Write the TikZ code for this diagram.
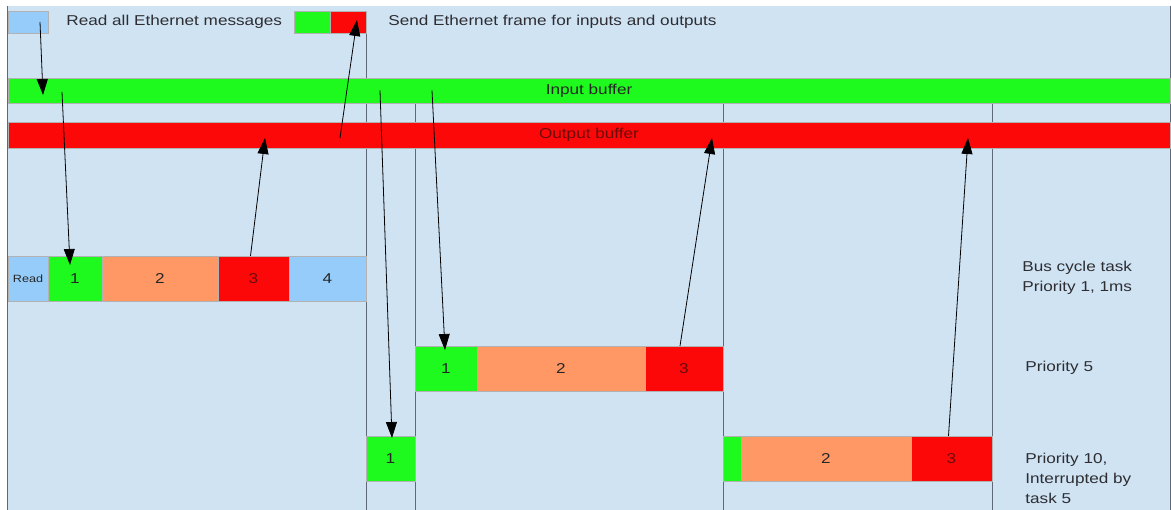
\documentclass[tikz,border=0pt]{standalone}
\usepackage{fontspec}
\setmainfont[FakeStretch=1.2]{Liberation Sans}
\usetikzlibrary{positioning,arrows.meta,backgrounds}

\definecolor{bgblue}{RGB}{207,227,243}
\definecolor{ingreen}{RGB}{30,250,30}
\definecolor{outred}{RGB}{252,8,8}
\definecolor{taskorange}{RGB}{255,152,100}
\definecolor{readblue}{RGB}{150,204,250}
\definecolor{sepgray}{RGB}{95,105,120}
\definecolor{labelgray}{RGB}{45,45,50}
\definecolor{redtext}{RGB}{110,10,10}

\tikzset{
  seg/.style={draw=gray!60, line width=0.6pt, inner sep=0pt, outer sep=0pt, minimum height=45pt, text=black!85, font=\fontsize{14.3}{20}\selectfont},
  outseg/.style={seg, fill=outred, text=redtext},
  buffer/.style={seg, minimum width=1162pt, minimum height=25pt},
  sep/.style={draw=sepgray, line width=1pt},
  note/.style={align=left, inner sep=0pt, anchor=north west, text=labelgray, font=\fontsize{14.3}{20}\selectfont},
}

\begin{document}
\begin{tikzpicture}[x=1pt, y=-1pt, line width=0.8pt, >={Triangle[length=16pt,width=11pt]}]
\useasboundingbox (0,0) rectangle (1171,510);
\coordinate (bot) at (0,510);

% legend
\node[seg, fill=readblue, minimum width=40pt, minimum height=22pt, anchor=north west] (lgread) at (8,11) {};
\node[note, right=18pt of lgread] (lgreadtxt) {Read all Ethernet messages};
\node[seg, fill=ingreen, minimum width=36pt, minimum height=22pt, anchor=north west] (lgin) at (294,11) {};
\node[outseg, minimum width=36pt, minimum height=22pt, right=0pt of lgin] (lgout) {};
\node[note, right=22pt of lgout] (lgouttxt) {Send Ethernet frame for inputs and outputs};

% buffers
\node[buffer, fill=ingreen, anchor=north west] (inbuf) at (8,78) {Input buffer};
\node[buffer, outseg, minimum height=26pt, anchor=north west] (outbuf) at (8,122) {Output buffer};

% bus cycle task
\node[seg, fill=readblue, minimum width=40pt, anchor=north west, font=\fontsize{10.5}{12}\selectfont] (bread) at (8,256) {Read};
\node[seg, fill=ingreen, minimum width=54pt, right=0pt of bread] (b1) {1};
\node[seg, fill=taskorange, minimum width=116pt, right=0pt of b1] (b2) {2};
\node[outseg, minimum width=71pt, right=0pt of b2] (b3) {3};
\node[seg, fill=readblue, minimum width=77pt, right=0pt of b3] (b4) {4};

% priority 5
\node[seg, fill=ingreen, minimum width=62pt, anchor=north west] (p5a) at (415,346) {1};
\node[seg, fill=taskorange, minimum width=168pt, right=0pt of p5a] (p5b) {2};
\node[outseg, minimum width=78pt, right=0pt of p5b] (p5c) {3};

% priority 10
\node[seg, fill=ingreen, minimum width=49pt, anchor=north west] (p10a) at (366,436) {1};
\node[seg, fill=ingreen, minimum width=18pt, anchor=north west] (p10b) at (723,436) {};
\node[seg, fill=taskorange, minimum width=170pt, right=0pt of p10b] (p10c) {2};
\node[outseg, minimum width=81pt, right=0pt of p10c] (p10d) {3};

% task labels
\node[note] (buslbl) at (1022,261) {Bus cycle task\\Priority 1, 1ms};
\node[note] (p5lbl) at (1025,361) {Priority 5};
\node[note] (p10lbl) at (1025,453) {Priority 10,\\Interrupted by\\task 5};

% background and time marks
\begin{scope}[on background layer]
  \fill[bgblue] (7,6) rectangle (1170,510);
  \draw[sep] (7,6) -- (7,510);
  \draw[sep] (1170,6) -- (1170,510);
  \draw[sep] (lgout.south east) -- (lgout.south east |- bot);
  \draw[sep] (inbuf.south -| p5a.west) -- (p5a.west |- bot);
  \draw[sep] (inbuf.south -| p5c.east) -- (p5c.east |- bot);
  \draw[sep] (inbuf.south -| p10d.east) -- (p10d.east |- bot);
\end{scope}

% data flow
\draw[->] ([xshift=12pt]lgread.center) -- ([xshift=35pt,yshift=-4.5pt]inbuf.west);
\draw[->] ([xshift=54pt,yshift=-1.5pt]inbuf.west) -- ([xshift=-5pt,yshift=-9pt]b1.north);
\draw[->] ([xshift=-3pt]b3.north) -- ([xshift=257pt,yshift=-3pt]outbuf.west);
\draw[->] ([xshift=332pt,yshift=-3pt]outbuf.west) -- ([xshift=9pt,yshift=2pt]lgout.center);
\draw[->] ([xshift=372pt]inbuf.west) -- ([xshift=1.5pt,yshift=-2pt]p10a.north);
\draw[->] ([xshift=424pt]inbuf.west) -- ([xshift=-1pt,yshift=-4pt]p5a.north);
\draw[->] ([xshift=-4pt]p5c.north) -- ([xshift=704pt,yshift=-3pt]outbuf.west);
\draw[->] ([xshift=-3pt]p10d.north) -- ([xshift=960pt,yshift=-3pt]outbuf.west);
\end{tikzpicture}
\end{document}
